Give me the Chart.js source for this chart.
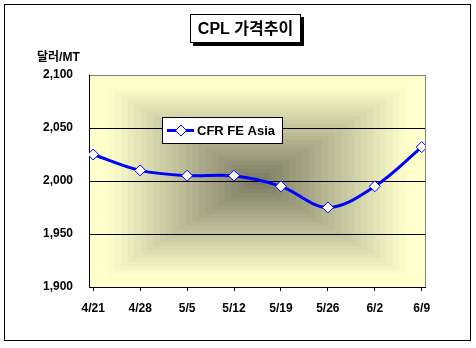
<!DOCTYPE html>
<html>
<head>
<meta charset="utf-8">
<script src="https://cdn.jsdelivr.net/npm/chart.js@4"></script>
<style>
  html, body { margin: 0; padding: 0; background: #ffffff; }
  #wrap { width: 476px; height: 348px; }
</style>
</head>
<body>
<div id="wrap"><canvas id="myChart" width="476" height="348"></canvas></div>
<script>
const weeks = ['4/21', '4/28', '5/5', '5/12', '5/19', '5/26', '6/2', '6/9'];
const cfrFeAsia = [2025, 2010, 2005, 2005, 1995, 1975, 1995, 2032];
const yTicks = [1900, 1950, 2000, 2050, 2100];
const chartTitle = 'CPL 가격추이';
const yUnit = '달러/MT';
const seriesName = 'CFR FE Asia';

const FONT = '"Liberation Sans", Arial, "Noto Sans CJK KR", sans-serif';

// excel style rectangular "from center" gradient behind the plot
const plotBackground = {
    id: 'plotBackground',
    beforeDraw(chart) {
        const { ctx, chartArea: a } = chart;
        const center = [118, 118, 96];
        const edge = [255, 255, 204];
        const steps = 26;
        const cx = (a.left + a.right) / 2;
        const cy = (a.top + a.bottom) / 2;
        const hw = (a.right - a.left) / 2;
        const hh = (a.bottom - a.top) / 2;
        ctx.save();
        for (let i = steps; i >= 1; i--) {
            const t = i / steps;
            const k = Math.min(1, t * 1.1);
            const c = center.map((v, j) => Math.round(v + (edge[j] - v) * k));
            ctx.fillStyle = `rgb(${c[0]},${c[1]},${c[2]})`;
            ctx.fillRect(cx - hw * t, cy - hh * t, hw * t * 2, hh * t * 2);
        }
        // gray frame on top/right
        ctx.strokeStyle = '#808080';
        ctx.lineWidth = 1;
        ctx.strokeRect(Math.round(a.left) + 0.5, Math.round(a.top) + 0.5, Math.round(a.right - a.left), Math.round(a.bottom - a.top));
        ctx.restore();
    },
    afterDraw(chart) {
        const { ctx } = chart;
        ctx.save();
        // outer border
        ctx.strokeStyle = '#000000';
        ctx.lineWidth = 1;
        ctx.strokeRect(4.5, 4.5, 466, 336);

        // title box with shadow
        ctx.fillStyle = '#000000';
        ctx.fillRect(193, 17, 111, 29);
        ctx.fillStyle = '#ffffff';
        ctx.fillRect(190, 14, 111, 29);
        ctx.strokeRect(190.5, 14.5, 110, 28);
        ctx.fillStyle = '#000000';
        ctx.font = 'bold 16px ' + FONT;
        ctx.textAlign = 'center';
        ctx.textBaseline = 'middle';
        ctx.fillText(chartTitle, 245.5, 29.5);

        // unit label
        ctx.font = 'bold 12px ' + FONT;
        ctx.textAlign = 'left';
        ctx.fillText(yUnit, 37, 58);

        // legend inside plot
        ctx.fillStyle = '#ffffff';
        ctx.fillRect(162, 117, 121, 27);
        ctx.strokeRect(162.5, 117.5, 120, 26);
        ctx.strokeStyle = '#0000ff';
        ctx.lineWidth = 3;
        ctx.beginPath();
        ctx.moveTo(167, 130.5);
        ctx.lineTo(194, 130.5);
        ctx.stroke();
        ctx.lineWidth = 1;
        ctx.fillStyle = '#ffffff';
        ctx.beginPath();
        ctx.moveTo(181, 125);
        ctx.lineTo(186.5, 130.5);
        ctx.lineTo(181, 136);
        ctx.lineTo(175.5, 130.5);
        ctx.closePath();
        ctx.fill();
        ctx.stroke();
        ctx.fillStyle = '#000000';
        ctx.font = 'bold 13px ' + FONT;
        ctx.textBaseline = 'middle';
        ctx.fillText(seriesName, 197, 131);
        ctx.restore();
    }
};

const ctx = document.getElementById('myChart').getContext('2d');
const myChart = new Chart(ctx, {
    type: 'line',
    data: {
        datasets: [{
            label: seriesName,
            data: cfrFeAsia.map((v, i) => ({ x: i, y: v })),
            borderColor: '#0000ff',
            borderWidth: 3,
            tension: 0.35,
            pointStyle: 'rectRot',
            pointRadius: 5.5,
            pointBackgroundColor: '#ffffff',
            pointBorderColor: '#0000ff',
            pointBorderWidth: 1,
            fill: false
        }]
    },
    options: {
        responsive: false,
        animation: false,
        maintainAspectRatio: false,
        layout: { padding: { left: 0, top: 75, right: 51, bottom: 0 } },
        plugins: {
            legend: { display: false },
            title: { display: false },
            tooltip: { enabled: false }
        },
        scales: {
            x: {
                type: 'linear',
                min: -0.09,
                max: 7.07,
                afterBuildTicks: scale => { scale.ticks = weeks.map((_, i) => ({ value: i })); },
                afterFit: scale => { scale.height = 61; },
                ticks: {
                    callback: v => weeks[v],
                    color: '#000000',
                    font: { family: FONT, size: 12, weight: 'bold' },
                    padding: 10,
                    maxRotation: 0,
                    autoSkip: false
                },
                grid: { drawOnChartArea: false, drawTicks: true, tickLength: 4, color: '#000000' },
                border: { display: true, color: '#000000', width: 1 }
            },
            y: {
                min: yTicks[0],
                max: yTicks[yTicks.length - 1],
                afterBuildTicks: scale => { scale.ticks = yTicks.map(v => ({ value: v })); },
                afterFit: scale => { scale.width = 89; },
                ticks: {
                    callback: v => v.toLocaleString('en-US'),
                    color: '#000000',
                    font: { family: FONT, size: 12, weight: 'bold' },
                    padding: 16
                },
                grid: {
                    drawTicks: false,
                    tickLength: 0,
                    color: c => (c.tick && c.tick.value > yTicks[0] && c.tick.value < yTicks[yTicks.length - 1]) ? '#000000' : 'rgba(0,0,0,0)'
                },
                border: { display: true, color: '#000000', width: 1 }
            }
        }
    },
    plugins: [plotBackground]
});
</script>
</body>
</html>
